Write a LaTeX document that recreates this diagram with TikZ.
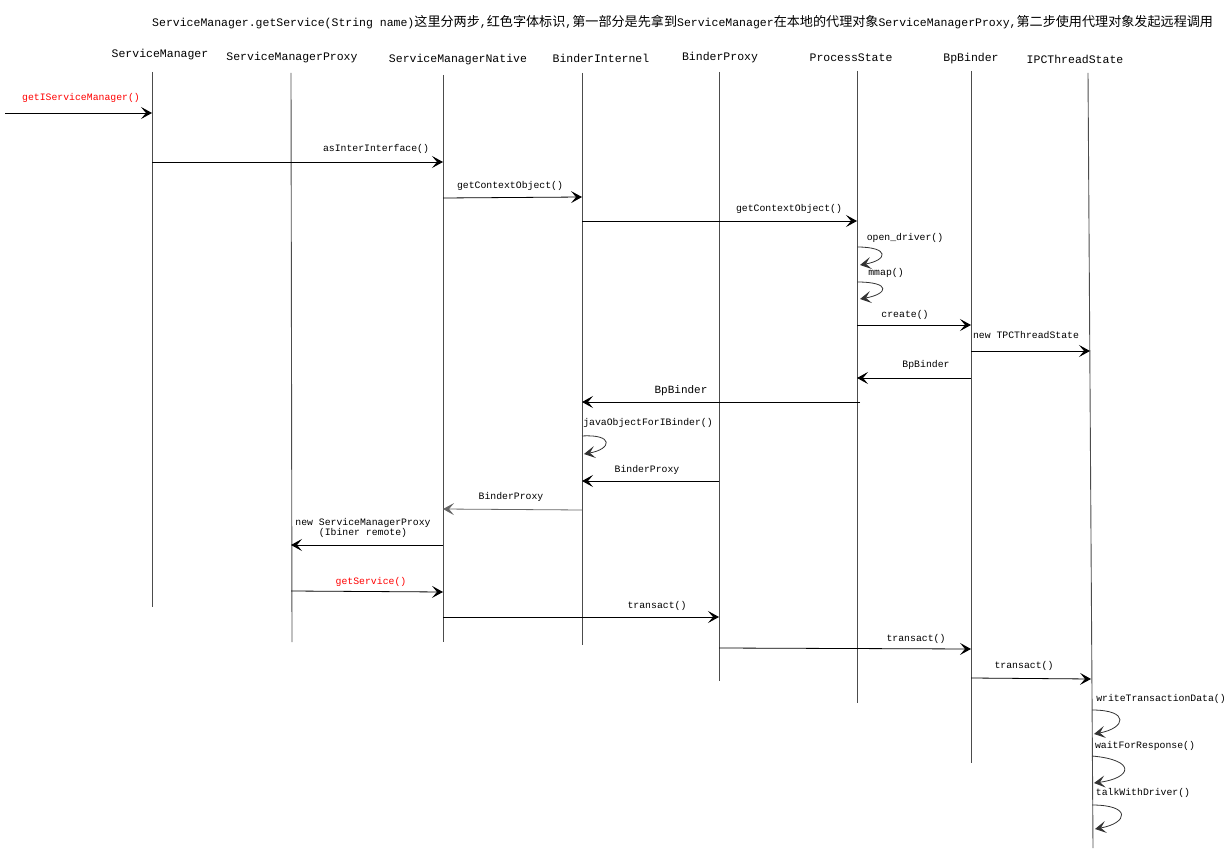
\documentclass[tikz,border=0pt]{standalone}
\usepackage{fontspec}
\newfontfamily\mono{Liberation Mono}
\newfontfamily\cjk{Noto Sans CJK SC}
\usetikzlibrary{arrows.meta}
\begin{document}
\begin{tikzpicture}[x=1pt,y=-1pt,
  life/.style={draw=black!70, line width=0.9pt},
  head/.style={font=\mono\fontsize{11.5}{12}\selectfont, inner sep=0pt},
  lbl/.style={font=\mono\fontsize{9.8}{10}\selectfont, inner sep=0pt},
  biglbl/.style={font=\mono\fontsize{11}{12}\selectfont, inner sep=0pt},
  redlbl/.style={lbl, text=red},
  msg/.style={draw=black, line width=0.8pt, -{Stealth[length=11pt,width=12pt,inset=5pt,line width=0.9pt]}},
  selfmsg/.style={msg, draw=black!80}
]
\useasboundingbox (0,0) rectangle (1232,853);
% title
\node[inner sep=0pt, anchor=west] (title) at (152,22)
  {\mono\fontsize{11.5}{12}\selectfont ServiceManager.getService(String name)\cjk\fontsize{13.1}{14}\selectfont 这里分两步\mono\fontsize{11.5}{12}\selectfont ,\cjk\fontsize{13.1}{14}\selectfont 红色字体标识\mono\fontsize{11.5}{12}\selectfont ,\cjk\fontsize{13.1}{14}\selectfont 第一部分是先拿到\mono\fontsize{11.5}{12}\selectfont ServiceManager\cjk\fontsize{13.1}{14}\selectfont 在本地的代理对象\mono\fontsize{11.5}{12}\selectfont ServiceManagerProxy,\cjk\fontsize{13.1}{14}\selectfont 第二步使用代理对象发起远程调用};
% headers
\node[head] (hSM) at (160,55) {ServiceManager};
\node[head] (hSMP) at (292,58) {ServiceManagerProxy};
\node[head] (hSMN) at (458,60) {ServiceManagerNative};
\node[head] (hBI) at (601,58) {BinderInternel};
\node[head] (hBP) at (720,58) {BinderProxy};
\node[head] (hPS) at (851,58) {ProcessState};
\node[head] (hBB) at (971,59) {BpBinder};
\node[head] (hIPC) at (1075,59) {IPCThreadState};
% lifelines
\coordinate (tSM) at (152,72);   \coordinate (bSM) at (152,607);
\coordinate (tSMP) at (291,73);  \coordinate (bSMP) at (292,642);
\coordinate (tSMN) at (443,75);  \coordinate (bSMN) at (443,642);
\coordinate (tBI) at (582,73);   \coordinate (bBI) at (582,645);
\coordinate (tBP) at (719,72);   \coordinate (bBP) at (719,681);
\coordinate (tPS) at (857,71);   \coordinate (bPS) at (857,703);
\coordinate (tBB) at (971,71);   \coordinate (bBB) at (971,763);
\coordinate (tIPC) at (1088,73); \coordinate (bIPC) at (1093,848);
\foreach \n in {SM,SMP,SMN,BI,BP,PS,BB,IPC} \draw[life] (t\n) -- (b\n);
% messages
\coordinate (start) at (5,113);
\draw[msg] (start) -- (tSM |- start);
\node[redlbl] (l1) at (81,98) {getIServiceManager()};
\draw[msg] (tSM |- 0,162) -- (tSMN |- 0,162);
\node[lbl] (l2) at (376,149) {asInterInterface()};
\draw[msg] (tSMN |- 0,198) -- (tBI |- 0,197);
\node[lbl] (l3) at (510,186) {getContextObject()};
\draw[msg] (tBI |- 0,221) -- (tPS |- 0,221);
\node[lbl] (l4) at (789,209) {getContextObject()};
\draw[selfmsg] (tPS |- 0,247) .. controls (890,247) and (888,260) .. (860,265);
\node[lbl] (l5) at (905,238) {open\_driver()};
\draw[selfmsg] (tPS |- 0,282) .. controls (892,282) and (888,294) .. (860,299);
\node[lbl] (l6) at (886,273) {mmap()};
\draw[msg] (tPS |- 0,325) -- (tBB |- 0,325);
\node[lbl] (l7) at (905,315) {create()};
\draw[msg] (tBB |- 0,351) -- (1090,351);
\node[lbl] (l8) at (1026,335) {new TPCThreadState};
\draw[msg] (tBB |- 0,378) -- (tPS |- 0,378);
\node[lbl] (l9) at (926,365) {BpBinder};
\draw[msg] (860,402) -- (tBI |- 0,402);
\node[biglbl] (l10) at (681,391) {BpBinder};
\draw[selfmsg] (tBI |- 0,436) .. controls (614,434) and (612,449) .. (584,454);
\node[lbl] (l11) at (648,423) {javaObjectForIBinder()};
\draw[msg] (tBP |- 0,481) -- (tBI |- 0,481);
\node[lbl] (l12) at (647,470) {BinderProxy};
\draw[msg, draw=black!60] (tBI |- 0,510) -- (tSMN |- 0,509);
\node[lbl] (l13) at (511,497) {BinderProxy};
\draw[msg] (tSMN |- 0,545) -- (tSMP |- 0,545);
\node[lbl, align=center, font=\mono\fontsize{9.8}{9}\selectfont] (l14) at (363,528) {new ServiceManagerProxy\\(Ibiner remote)};
\draw[msg] (tSMP |- 0,591) -- (tSMN |- 0,592);
\node[redlbl] (l15) at (371,582) {getService()};
\draw[msg] (tSMN |- 0,617) -- (tBP |- 0,617);
\node[lbl] (l16) at (657,606) {transact()};
\draw[msg] (tBP |- 0,648) -- (tBB |- 0,649);
\node[lbl] (l17) at (916,639) {transact()};
\draw[msg] (tBB |- 0,678) -- (1091,679);
\node[lbl] (l18) at (1024,666) {transact()};
\draw[selfmsg] (1092,710) .. controls (1130,710) and (1126,728) .. (1094,734);
\node[lbl] (l19) at (1161,699) {writeTransactionData()};
\draw[selfmsg] (1092,756) .. controls (1137,760) and (1132,778) .. (1094,783);
\node[lbl] (l20) at (1145,746) {waitForResponse()};
\draw[selfmsg] (1092,805) .. controls (1132,805) and (1128,823) .. (1095,829);
\node[lbl] (l21) at (1143,793) {talkWithDriver()};
\end{tikzpicture}
\end{document}
